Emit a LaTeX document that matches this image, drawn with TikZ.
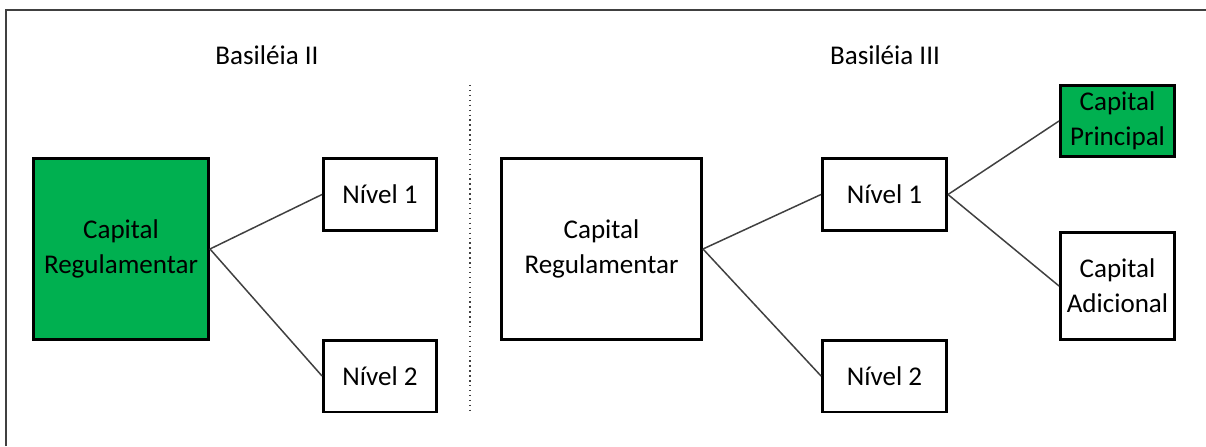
\documentclass[tikz,border=0pt]{standalone}
\usepackage{fontspec}
\setmainfont{Carlito}
\definecolor{basgreen}{HTML}{00B050}
\definecolor{linegray}{HTML}{404040}
\tikzset{
  box/.style={draw=black,line width=1.7pt,align=center,inner sep=0pt,
    font=\fontsize{15.4}{19.8}\selectfont},
  link/.style={draw=linegray,line width=0.85pt},
}
\begin{document}
\begin{tikzpicture}[x=0.02cm,y=-0.02cm]
        \useasboundingbox (0,0) rectangle (1206,446);
        \draw[linegray,line width=1.1pt] (6,446) -- (6,10) -- (1206,10);
        % Basileia II
        \node[font=\fontsize{15.4}{19.8}\selectfont] (t2) at (267,55) {Basiléia II};
        \node[box,fill=basgreen,minimum width=3.5cm,minimum height=3.62cm] (reg2) at (121,249) {Capital\\Regulamentar};
        \node[box,minimum width=2.26cm,minimum height=1.44cm] (n21) at (380,194.5) {Nível 1};
        \node[box,minimum width=2.26cm,minimum height=1.44cm] (n22) at (380,376) {Nível 2};
        \draw[link] (reg2.east) -- (n21.west);
        \draw[link] (reg2.east) -- (n22.west);
        % separator
        \coordinate (sepa) at (470,85);
        \coordinate (sepb) at (470,411);
        \draw[linegray,dotted,line width=0.8pt] (sepa) -- (sepb);
        % Basileia III
        \node[font=\fontsize{15.4}{19.8}\selectfont] (t3) at (885,55) {Basiléia III};
        \node[box,minimum width=4.0cm,minimum height=3.62cm] (reg3) at (601.5,249) {Capital\\Regulamentar};
        \node[box,minimum width=2.48cm,minimum height=1.44cm] (n31) at (884.5,194.5) {Nível 1};
        \node[box,minimum width=2.48cm,minimum height=1.44cm] (n32) at (884.5,376) {Nível 2};
        \node[box,fill=basgreen,minimum width=2.28cm,minimum height=1.42cm] (princ) at (1117.5,121) {Capital\\Principal};
        \node[box,minimum width=2.28cm,minimum height=2.14cm] (adic) at (1117.5,286) {Capital\\Adicional};
        \draw[link] (reg3.east) -- (n31.west);
        \draw[link] (reg3.east) -- (n32.west);
        \draw[link] (n31.east) -- (princ.west);
        \draw[link] (n31.east) -- (adic.west);
    \end{tikzpicture}
\end{document}
